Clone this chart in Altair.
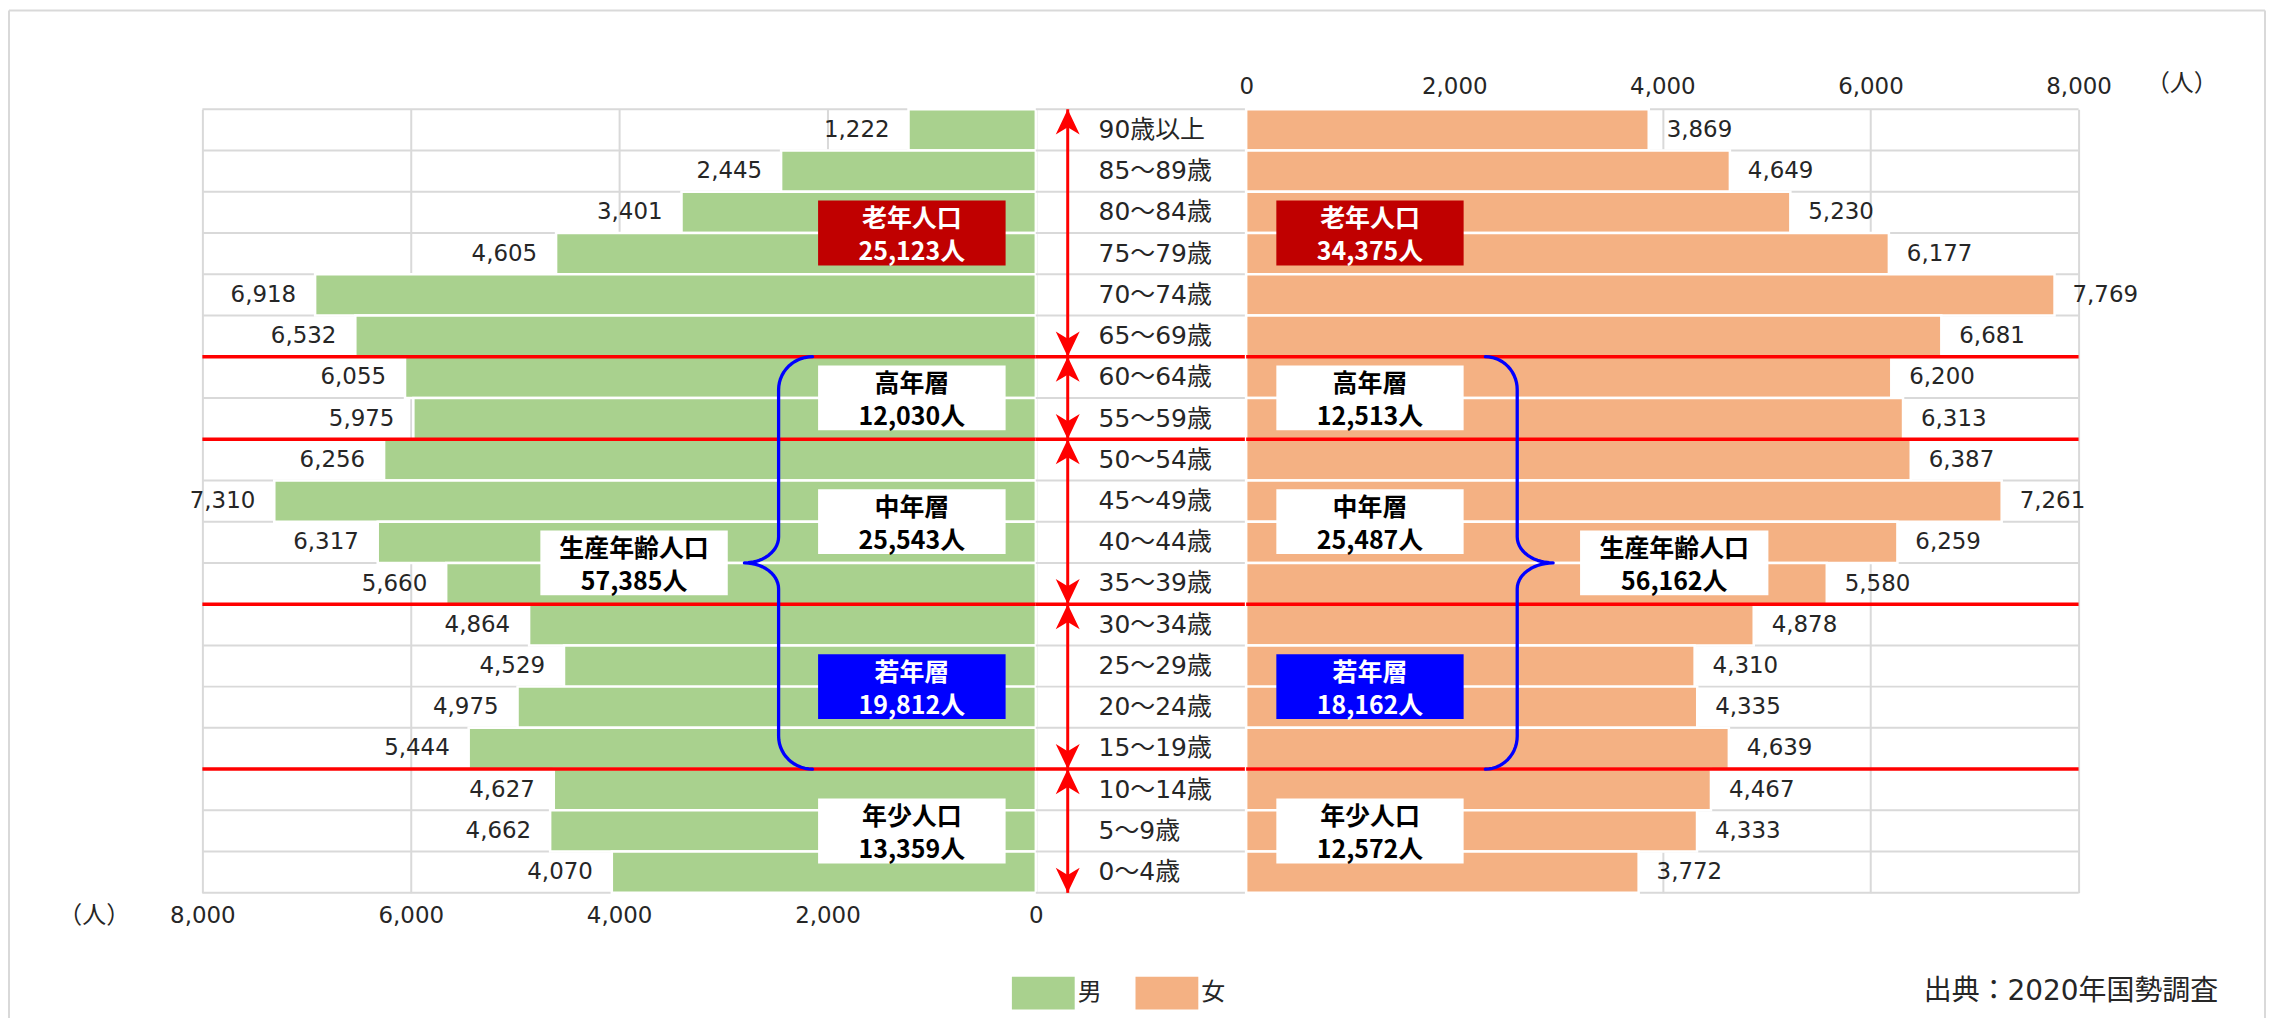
import math
import altair as alt
import pandas as pd

# ---------------- data ----------------
AGES = ["90歳以上", "85～89歳", "80～84歳", "75～79歳", "70～74歳", "65～69歳",
        "60～64歳", "55～59歳", "50～54歳", "45～49歳", "40～44歳", "35～39歳",
        "30～34歳", "25～29歳", "20～24歳", "15～19歳", "10～14歳", "5～9歳", "0～4歳"]
MALE = [1222, 2445, 3401, 4605, 6918, 6532, 6055, 5975, 6256, 7310, 6317, 5660,
        4864, 4529, 4975, 5444, 4627, 4662, 4070]
FEMALE = [3869, 4649, 5230, 6177, 7769, 6681, 6200, 6313, 6387, 7261, 6259, 5580,
          4878, 4310, 4335, 4639, 4467, 4333, 3772]
SEXES = ["男", "女"]
TICKS = [0, 2000, 4000, 6000, 8000]
GROUP_LABELS = ["老年人口", "高年層", "中年層", "若年層", "年少人口", "生産年齢人口"]
MALE_TOTALS = [25123, 12030, 25543, 19812, 13359, 57385]
FEMALE_TOTALS = [34375, 12513, 25487, 18162, 12572, 56162]
UNIT = "（人）"
SOURCE = "出典：2020年国勢調査"

# ---------------- layout / style ----------------
GREEN, ORANGE = "#A9D18E", "#F4B183"
RED, BLUE, DARKRED = "#FF0000", "#0000FF", "#C00000"
GRID, TXT = "#D9D9D9", "#262626"
FONT_JP = "Noto Sans CJK JP"
FONT_NUM = "DejaVu Sans, Noto Sans CJK JP"
W_L, W_M, W_R, H = 836, 211, 835, 786
N = len(AGES)
RED_BOUNDS = [6, 8, 12, 16]
ARROW_FROM = [0, 6, 8, 12, 16]
ARROW_TO = [6, 8, 12, 16, 19]
BOX_ROW = [3.0, 7.0, 10.0, 14.0, 17.5, 11.0]
BOX_FILL = [DARKRED, "#FFFFFF", "#FFFFFF", BLUE, "#FFFFFF", "#FFFFFF"]
BOX_INK = ["#FFFFFF", "#000000", "#000000", "#FFFFFF", "#000000", "#000000"]
BOX_HALF = 0.786
BOX_X1_L = [290, 290, 290, 290, 290, 2957]
BOX_X2_L = [2090, 2090, 2090, 2090, 2090, 4756]
BOX_X1_R = [290, 290, 290, 290, 290, 3209]
BOX_X2_R = [2090, 2090, 2090, 2090, 2090, 5019]
BRACE_L = (2144, 2469, 2797)   # end, stem, tip (axis units)
BRACE_R = (2299, 2605, 2950)
BRACE_ROWS = (6, 11, 16)
BRACE_R_END, BRACE_R_TIP = 0.8, 0.63
UP = "M0,0L1,2.1L0,1.5L-1,2.1Z"
DOWN = "M0,0L1,-2.1L0,-1.5L-1,-2.1Z"

YS = alt.Scale(domain=[0, N], reverse=True, nice=False, zero=False)
COLOR = alt.Scale(domain=SEXES, range=[GREEN, ORANGE])
LEGEND = alt.Legend(orient="none", legendX=812, legendY=855, direction="horizontal",
                    columns=2, title=None, padding=0,
                    symbolType="M-1,-0.52H1V0.52H-1Z", symbolSize=3969,
                    symbolStrokeWidth=0, symbolOpacity=1,
                    labelFont=FONT_JP, labelFontSize=24, labelColor=TXT,
                    labelOffset=3, columnPadding=34)


def yrow(field):
    return alt.Y(field, type="quantitative", scale=YS, axis=None)


def brace_points(xe, xm, xt):
    top, tip, bot = BRACE_ROWS
    r1, r2 = BRACE_R_END, BRACE_R_TIP
    pts = []
    steps = 14
    for s in range(steps + 1):
        t = math.pi / 2 * s / steps
        pts.append((xe + (xm - xe) * math.sin(t), top + r1 - r1 * math.cos(t)))
    for s in range(steps + 1):
        t = math.pi / 2 * s / steps
        pts.append((xt + (xm - xt) * math.cos(t), tip - r2 + r2 * math.sin(t)))
    for s in range(steps + 1):
        t = math.pi / 2 * s / steps
        pts.append((xt + (xm - xt) * math.sin(t), tip + r2 - r2 * math.cos(t)))
    for s in range(steps + 1):
        t = math.pi / 2 * s / steps
        pts.append((xe + (xm - xe) * math.cos(t), bot - r1 + r1 * math.sin(t)))
    return pd.DataFrame({"x": [p[0] for p in pts], "y": [p[1] for p in pts],
                         "k": list(range(len(pts)))})


def side(values, totals, sex, left):
    width = W_L if left else W_R
    xs = alt.Scale(domain=[0, 8000], reverse=left, nice=False, zero=False)
    axis = alt.Axis(orient="bottom" if left else "top", values=TICKS, format=",.0f",
                    grid=True, gridColor=GRID, gridWidth=2, domain=False,
                    ticks=False, tickSize=0, labelPadding=23, labelBaseline="middle",
                    labelFont=FONT_NUM, labelFontSize=23, labelColor=TXT,
                    labelFlush=False, labelOverlap=False,
                    title=UNIT, titleX=-109 if left else 938, titleY=23 if left else -26,
                    titleAlign="center", titleBaseline="middle", titleAngle=0,
                    titleFont=FONT_JP, titleFontSize=24, titleFontWeight="normal",
                    titleColor=TXT)
    bars_df = pd.DataFrame({"age": AGES, "i": list(range(N)), "value": values, "sex": sex})
    sep_df = pd.DataFrame({"b": list(range(N + 1))})
    red_df = pd.DataFrame({"b": RED_BOUNDS})

    seps = alt.Chart(sep_df).mark_rule(color=GRID, strokeWidth=2).encode(y=yrow("b"))
    bars = alt.Chart(bars_df).transform_calculate(i2="datum.i + 1").mark_bar(
        stroke="white", strokeWidth=2.5).encode(
        x=alt.X("value:Q", scale=xs, axis=axis), x2=alt.datum(0),
        y=yrow("i"), y2="i2:Q",
        color=alt.Color("sex:N", scale=COLOR, legend=LEGEND))
    reds = alt.Chart(red_df).mark_rule(color=RED, strokeWidth=3.5).encode(y=yrow("b"))
    labels = alt.Chart(bars_df).transform_calculate(yc="datum.i + 0.5").mark_text(
        align="right" if left else "left", baseline="middle", dx=-19 if left else 18,
        font=FONT_NUM, fontSize=23, color=TXT).encode(
        x=alt.X("value:Q", scale=xs), y=yrow("yc"),
        text=alt.Text("value:Q", format=","))

    box_df = pd.DataFrame({
        "name": GROUP_LABELS,
        "total": [f"{t:,}人" for t in totals],
        "row": BOX_ROW,
        "x1": BOX_X1_L if left else BOX_X1_R,
        "x2": BOX_X2_L if left else BOX_X2_R,
        "fill": BOX_FILL, "ink": BOX_INK})
    box_df["label"] = box_df["name"] + "\n" + box_df["total"]
    box_df["y1"] = box_df["row"] - BOX_HALF
    box_df["y2"] = box_df["row"] + BOX_HALF
    box_df["xc"] = (box_df["x1"] + box_df["x2"]) / 2
    rects = alt.Chart(box_df).mark_rect().encode(
        x=alt.X("x1:Q", scale=xs), x2="x2:Q", y=yrow("y1"), y2="y2:Q",
        fill=alt.Fill("fill:N", scale=None))
    btext = alt.Chart(box_df).mark_text(align="center", baseline="middle", dy=-14,
                                        lineBreak="\n", lineHeight=33,
                                        font=FONT_JP, fontSize=25, fontWeight="bold").encode(
        x=alt.X("xc:Q", scale=xs), y=yrow("row"), text="label:N",
        color=alt.Color("ink:N", scale=None))

    bdf = brace_points(*(BRACE_L if left else BRACE_R))
    brace = alt.Chart(bdf).mark_line(color=BLUE, strokeWidth=3.3, strokeCap="round",
                                     strokeJoin="round").encode(
        x=alt.X("x:Q", scale=xs), y=yrow("y"), order="k:Q")

    layers = [seps, bars, reds, labels, rects, btext, brace]
    one = pd.DataFrame({"k": [0]})
    if left:
        frame = alt.Chart(one).mark_rule(color=GRID, strokeWidth=2)
        layers += [
            frame.encode(x=alt.value(-194), x2=alt.value(2069), y=alt.value(-99)),
            frame.encode(x=alt.value(-194), y=alt.value(-99), y2=alt.value(912)),
            frame.encode(x=alt.value(2069), y=alt.value(-99), y2=alt.value(912)),
        ]
    else:
        src = alt.Chart(pd.DataFrame({"t": [SOURCE]})).mark_text(
            align="right", baseline="middle", font=FONT_NUM, fontSize=28, color=TXT).encode(
            x=alt.value(975), y=alt.value(886), text="t:N")
        layers.append(src)
    return alt.layer(*layers).properties(width=width, height=H)


def middle():
    sep_df = pd.DataFrame({"b": list(range(N + 1))})
    red_df = pd.DataFrame({"b": RED_BOUNDS})
    age_df = pd.DataFrame({"age": AGES, "i": list(range(N))})
    arr_df = pd.DataFrame({"a": ARROW_FROM, "b": ARROW_TO})
    seps = alt.Chart(sep_df).mark_rule(color=GRID, strokeWidth=2).encode(y=yrow("b"))
    reds = alt.Chart(red_df).mark_rule(color=RED, strokeWidth=3.5).encode(y=yrow("b"))
    ages = alt.Chart(age_df).transform_calculate(yc="datum.i + 0.5").mark_text(
        align="left", baseline="middle", font=FONT_NUM, fontSize=25, color=TXT).encode(
        x=alt.value(63), y=yrow("yc"), text="age:N")
    shaft = alt.Chart(arr_df).mark_rule(color=RED, strokeWidth=3).encode(
        x=alt.value(32), y=yrow("a"), y2="b:Q")
    up = alt.Chart(arr_df).mark_point(shape=UP, size=576, filled=True, color=RED,
                                      opacity=1, strokeWidth=0).encode(
        x=alt.value(32), y=yrow("a"))
    down = alt.Chart(arr_df).mark_point(shape=DOWN, size=576, filled=True, color=RED,
                                        opacity=1, strokeWidth=0).encode(
        x=alt.value(32), y=yrow("b"))
    return alt.layer(seps, reds, ages, shaft, up, down).properties(width=W_M, height=H)


left = side(MALE, MALE_TOTALS, SEXES[0], True)
right = side(FEMALE, FEMALE_TOTALS, SEXES[1], False)

chart = alt.hconcat(left, middle(), right, spacing=0, bounds="flush").properties(
    padding=0, background="white").configure_view(stroke=None)

chart.save("out.html", embed_options={"renderer": "svg", "actions": False})
